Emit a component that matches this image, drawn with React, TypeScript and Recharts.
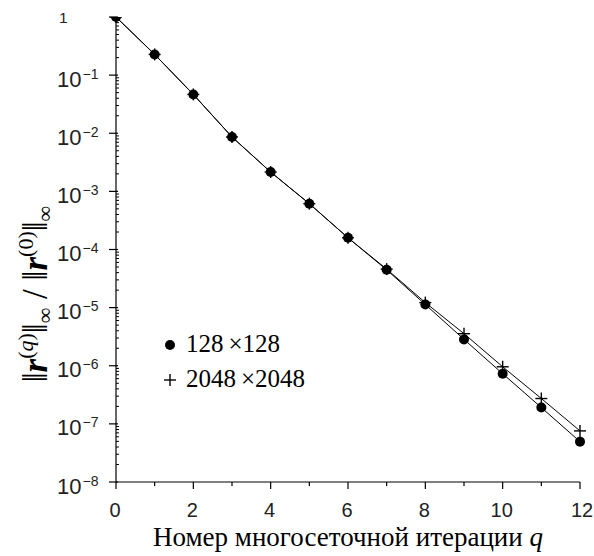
import React from "react";
import { LineChart, Line, XAxis, YAxis, Customized } from "recharts";

const iterations = [0, 1, 2, 3, 4, 5, 6, 7, 8, 9, 10, 11, 12];
const grid128 = [1, 0.227, 0.0465, 0.00863, 0.00215, 6.14e-4, 1.59e-4, 4.47e-5, 1.13e-5, 2.84e-6, 7.3e-7, 1.91e-7, 4.95e-8];
const grid2048 = [1, 0.227, 0.0465, 0.00863, 0.00215, 6.14e-4, 1.59e-4, 4.6e-5, 1.22e-5, 3.56e-6, 9.6e-7, 2.73e-7, 7.57e-8];
const xTicks = [0, 1, 2, 3, 4, 5, 6, 7, 8, 9, 10, 11, 12];
const majorExps = [0, -1, -2, -3, -4, -5, -6, -7, -8];
const legendLabels = ["128\u2009\u00d7128", "2048\u2009\u00d72048"];

const data = iterations.map((q, i) => ({ q, a: grid128[i], b: grid2048[i] }));

const yTicks: number[] = [];
majorExps.forEach((e) => {
  yTicks.push(Math.pow(10, e));
  if (e > -8) {
    for (let m = 2; m <= 9; m++) yTicks.push(m * Math.pow(10, e - 1));
  }
});

const SANS = "'Liberation Sans', Arial, sans-serif";
const SERIF = "'Liberation Serif', 'Times New Roman', serif";

const YTick = (props: any) => {
  const { x, y, payload } = props;
  const v = payload.value;
  const e = Math.log10(v);
  const isMajor = Math.abs(e - Math.round(e)) < 1e-6;
  if (!isMajor) {
    return <line x1={x} x2={x + 3} y1={y} y2={y} stroke="#000" strokeWidth={1} />;
  }
  const k = Math.round(e);
  return (
    <g>
      <line x1={x - 7} x2={x + 2} y1={y} y2={y} stroke="#000" strokeWidth={1.2} />
      {k === 0 ? (
        <text x={x - 57} y={y + 6} fontFamily={SANS} fontSize={15.5} fill="#222">1</text>
      ) : (
        <text x={x - 59} y={y + 11.5} fontFamily={SANS} fontSize={22} fill="#222">
          10
          <tspan fontSize={14} dy={-8} dx={1}>{"\u2212" + Math.abs(k)}</tspan>
        </text>
      )}
    </g>
  );
};

const XTick = (props: any) => {
  const { x, y, payload } = props;
  const v = payload.value;
  const even = v % 2 === 0;
  return (
    <g>
      <line x1={x} x2={x} y1={y} y2={y + (even ? 7 : 4)} stroke="#000" strokeWidth={1.2} />
      {even && (
        <text x={v === 12 ? x + 2 : x - 1} y={y + 35} textAnchor="middle" fontFamily={SANS} fontSize={20} fill="#222">
          {v}
        </text>
      )}
    </g>
  );
};

const CircleDot = (props: any) => {
  const { cx, cy } = props;
  if (cx == null || cy == null) return null;
  return <circle cx={cx} cy={cy} r={5} fill="#000" />;
};

const PlusDot = (props: any) => {
  const { cx, cy } = props;
  if (cx == null || cy == null) return null;
  return (
    <g stroke="#000" strokeWidth={1.4}>
      <line x1={cx - 6} x2={cx + 6} y1={cy} y2={cy} />
      <line x1={cx} x2={cx} y1={cy - 6} y2={cy + 6} />
    </g>
  );
};

const Titles = () => (
  <g>
    <text
      x={47}
      y={294}
      transform="rotate(-90, 47, 294)"
      textAnchor="middle"
      fontFamily={SERIF}
      fontSize={35}
      fill="#000"
    >
      <tspan>{"\u2016"}</tspan>
      <tspan fontStyle="italic" fontWeight="bold">r</tspan>
      <tspan fontSize={22} dy={-14}>(</tspan>
      <tspan fontSize={22} fontStyle="italic">q</tspan>
      <tspan fontSize={22}>)</tspan>
      <tspan dy={14}>{"\u2016"}</tspan>
      <tspan fontSize={22} dy={5}>{"\u221e"}</tspan>
      <tspan dy={-5}>{" / "}</tspan>
      <tspan>{"\u2016"}</tspan>
      <tspan fontStyle="italic" fontWeight="bold">r</tspan>
      <tspan fontSize={22} dy={-14}>(0)</tspan>
      <tspan dy={14}>{"\u2016"}</tspan>
      <tspan fontSize={22} dy={5}>{"\u221e"}</tspan>
    </text>
    <text x={348} y={546} textAnchor="middle" fontFamily={SERIF} fontSize={27} fill="#000">
      {"Номер многосеточной итерации  "}
      <tspan fontStyle="italic">q</tspan>
    </text>
    <circle cx={170} cy={345} r={5} fill="#000" />
    <text x={186} y={352} fontFamily={SERIF} fontSize={25} fill="#000">{legendLabels[0]}</text>
    <g stroke="#000" strokeWidth={1.4}>
      <line x1={164} x2={176} y1={380} y2={380} />
      <line x1={170} x2={170} y1={374} y2={386} />
    </g>
    <text x={186} y={387} fontFamily={SERIF} fontSize={25} fill="#000">{legendLabels[1]}</text>
  </g>
);

export default function App() {
  return (
    <div style={{ width: 594, height: 556 }}>
      <style>{"html,body{margin:0;padding:0;}"}</style>
      <LineChart width={594} height={556} data={data} margin={{ top: 17, right: 14, left: 0, bottom: 0 }}>
        <XAxis
          dataKey="q"
          type="number"
          domain={[0, 12]}
          ticks={xTicks}
          interval={0}
          height={74}
          tickSize={0}
          tickMargin={0}
          tick={<XTick />}
          axisLine={{ stroke: "#000", strokeWidth: 1.2 }}
        />
        <YAxis
          scale="log"
          type="number"
          domain={[1e-8, 1]}
          ticks={yTicks}
          interval={0}
          width={116}
          tickSize={0}
          tickMargin={0}
          tick={<YTick />}
          allowDataOverflow
          axisLine={{ stroke: "#000", strokeWidth: 1.2 }}
        />
        <Line dataKey="a" stroke="#000" strokeWidth={1} dot={<CircleDot />} isAnimationActive={false} />
        <Line dataKey="b" stroke="#000" strokeWidth={1} dot={<PlusDot />} isAnimationActive={false} />
        <Customized component={Titles} />
      </LineChart>
    </div>
  );
}
